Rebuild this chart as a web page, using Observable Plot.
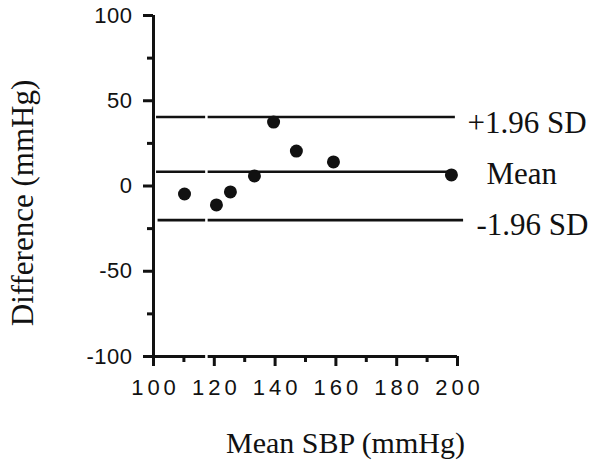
<!DOCTYPE html>
<html>
<head>
<meta charset="utf-8">
<script src="https://cdn.jsdelivr.net/npm/d3@7"></script>
<script src="https://cdn.jsdelivr.net/npm/@observablehq/plot@0.6"></script>
<style>
  html, body { margin: 0; padding: 0; background: #fff; }
  #chart svg { display: block; }
</style>
</head>
<body>
<div id="chart"></div>
<script>
// Bland–Altman plot: difference vs mean systolic blood pressure
const meanSBP    = [110.2, 120.7, 125.3, 133.2, 139.5, 147.0, 159.2, 198.0];
const difference = [-4.7, -11.1, -3.5, 5.9, 37.5, 20.5, 14.1, 6.5];

// Reference lines: +1.96 SD, mean difference, -1.96 SD
const levelNames  = ["+1.96 SD", "Mean", "-1.96 SD"];
const levelValues = [40.5, 8.4, -20.0];
const levelFrom   = [101, 101, 101.5];
const levelTo     = [199.3, 198, 202];

const xMajorTicks = [100, 120, 140, 160, 180, 200];
const xMinorTicks = [110, 130, 150, 170, 190];
const yMajorTicks = [-100, -50, 0, 50, 100];
const yMinorTicks = [-75, -25, 25, 75];

const xTitle = "Mean SBP (mmHg)";
const yTitle = "Difference (mmHg)";

const points = meanSBP.map((m, i) => ({ m, d: difference[i] }));
const levels = levelNames.map((name, i) => ({
  name, value: levelValues[i], from: levelFrom[i], to: levelTo[i]
}));

const serif = "'Liberation Serif', 'Times New Roman', serif";
const sans = "'Liberation Sans', Arial, sans-serif";
const labelDx = [10, 29, 19];
const labelDy = [6, 2, 5];

const chart = Plot.plot({
  width: 594,
  height: 475,
  marginLeft: 153,
  marginRight: 137,
  marginTop: 15,
  marginBottom: 119,
  x: { domain: [100, 200] },
  y: { domain: [-100, 100] },
  style: { background: "#fff", color: "#111" },
  marks: [
    // limits of agreement and mean
    Plot.ruleY(levels, { y: "value", x1: "from", x2: "to", stroke: "#111", strokeWidth: 2.6 }),
    // axes
    Plot.ruleX([100], { y1: -100, y2: 100, stroke: "#111", strokeWidth: 3 }),
    Plot.ruleY([-100], { x1: 100, x2: 200, stroke: "#111", strokeWidth: 3 }),
    Plot.axisX(xMajorTicks, {
      tickSize: 10, tickPadding: 13, strokeWidth: 3, stroke: "#111",
      fontSize: 22, fontFamily: sans, fill: "#111", label: null, tickFormat: d => String(d)
    }),
    Plot.axisX(xMinorTicks, { tickSize: 6, strokeWidth: 3, stroke: "#111", text: null, label: null }),
    Plot.axisY(yMajorTicks, {
      tickSize: 10, tickPadding: 11, strokeWidth: 3, stroke: "#111",
      fontSize: 22, fontFamily: sans, fill: "#111", label: null, tickFormat: d => String(d)
    }),
    Plot.axisY(yMinorTicks, { tickSize: 6, strokeWidth: 3, stroke: "#111", text: null, label: null }),
    // thin break across the plot
    Plot.ruleX([117.4], { y1: -101.8, y2: 44, stroke: "#fff", strokeWidth: 2.5 }),
    // observations
    Plot.dot(points, { x: "m", y: "d", r: 6.5, fill: "#111", stroke: "none" }),
    // line labels
    ...levels.map((l, i) => Plot.text([l], {
      x: 200, y: "value", text: "name", dx: labelDx[i], dy: labelDy[i],
      textAnchor: "start", lineAnchor: "middle",
      fontSize: 31, fontFamily: serif, fill: "#111"
    })),
    // axis titles
    Plot.text([xTitle], {
      frameAnchor: "bottom", text: d => d, dx: 40, dy: 96,
      textAnchor: "middle", fontSize: 30, fontFamily: serif, fill: "#111"
    }),
    Plot.text([yTitle], {
      frameAnchor: "left", text: d => d, dx: -130, dy: 17, rotate: -90,
      textAnchor: "middle", lineAnchor: "middle",
      fontSize: 31, fontFamily: serif, fill: "#111"
    })
  ]
});

d3.select(chart).selectAll('g[aria-label="x-axis tick label"] text').attr("letter-spacing", "4px").attr("dx", "2px");
d3.select(chart).selectAll('g[aria-label="y-axis tick label"] text').attr("letter-spacing", "0.5px");

document.getElementById("chart").appendChild(chart);
</script>
</body>
</html>
